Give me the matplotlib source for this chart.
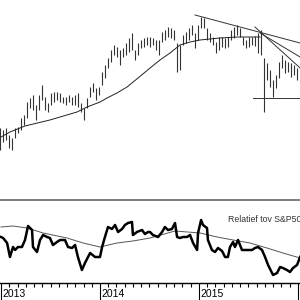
import numpy as np
import matplotlib
matplotlib.use("Agg")
import matplotlib.pyplot as plt
import matplotlib.transforms as mtransforms

plt.rcParams['font.family'] = ['Liberation Sans', 'DejaVu Sans']

# weekly-ish price bars (high / low), 100 bars from Jan 2013 to end 2015
bar_high = [72, 70, 72, 65, 62, 72, 73, 82, 85, 98,
            102, 105, 95, 105, 115, 103, 97, 107, 108, 108,
            107, 103, 103, 105, 103, 105, 107, 97, 92, 102,
            113, 117, 112, 113, 128, 135, 142, 150, 155, 153,
            150, 152, 157, 162, 167, 150, 157, 160, 162, 163,
            163, 162, 160, 160, 168, 170, 173, 172, 170, 157,
            155, 165, 168, 172, 175, 167, 175, 183, 182, 172,
            167, 163, 158, 163, 163, 162, 163, 170, 173, 175,
            172, 163, 160, 163, 163, 164, 167, 170, 142, 137,
            130, 120, 125, 138, 145, 140, 138, 137, 135, 132]
bar_low = [50, 58, 60, 52, 50, 62, 67, 70, 75, 82,
           92, 90, 80, 90, 100, 90, 88, 95, 98, 100,
           98, 97, 95, 98, 95, 95, 93, 88, 80, 92,
           103, 108, 100, 105, 115, 122, 132, 138, 145, 143,
           135, 143, 145, 148, 150, 140, 145, 152, 153, 155,
           153, 155, 150, 145, 158, 160, 163, 162, 160, 128,
           130, 155, 157, 160, 165, 152, 160, 172, 172, 160,
           158, 155, 147, 150, 153, 152, 153, 160, 162, 165,
           163, 155, 152, 153, 155, 154, 147, 145, 88, 120,
           113, 103, 112, 122, 132, 127, 128, 123, 125, 120]

# moving average on price (week, value)
ma_weeks = [0, 4.7, 12.6, 25.7, 39.9, 45.2, 52.0, 55.7, 60.9, 66.2,
            72.0, 78.3, 83.5, 88.8, 94.0, 99.3, 104.5, 115.0, 124.0, 136.1]
ma_vals = [63, 68, 74, 80, 88, 93, 98, 102, 107, 113,
           122, 132, 140, 147, 155, 158, 160, 162, 163, 163]

# trend lines drawn on the price chart: (week0, price0, week1, price1)
trend_lines = [
    (101.9, 185, 157.1, 157),
    (133.4, 173, 157.1, 132),
    (136.1, 167, 157.1, 143),
    (132.4, 102, 157.1, 102),
]

# relative strength vs S&P500
rel_weeks = [0, 1.1, 3.2, 4.7, 6.3, 7.4, 8.9, 11.0, 12.6, 14.2,
             16.3, 16.8, 18.9, 20.5, 22.1, 24.2, 25.7, 27.3, 29.4, 31.0,
             33.6, 35.2, 37.3, 38.9, 40.4, 42.5, 44.1, 46.8, 49.4, 52.0,
             53.1, 54.6, 56.2, 58.3, 59.9, 61.5, 63.6, 65.1, 66.7, 68.8,
             69.3, 71.4, 74.1, 75.6, 77.2, 78.3, 79.8, 82.5, 84.6, 86.1,
             87.7, 89.8, 91.4, 92.5, 94.0, 95.6, 97.7, 99.3, 100.9, 103.0,
             103.5, 105.1, 106.1, 108.2, 108.7, 110.8, 112.4, 114.0, 116.1, 117.7,
             119.2, 120.3, 121.9, 122.9, 124.5, 126.6, 128.2, 129.7, 131.9, 133.4,
             135.0, 137.1, 138.7, 140.3, 142.9, 145.0, 146.6, 148.1, 150.2, 151.8,
             153.4, 155.5, 157.1]
rel_vals = [46, 45, 40, 26, 36, 33, 36, 36, 43, 57,
            53, 36, 31, 43, 48, 46, 45, 38, 41, 43,
            43, 36, 35, 38, 26, 13, 20, 30, 26, 26,
            36, 46, 56, 54, 58, 51, 54, 58, 60, 61,
            48, 51, 53, 49, 51, 51, 48, 46, 51, 56,
            53, 54, 60, 46, 45, 46, 46, 48, 40, 33,
            50, 63, 58, 55, 43, 33, 31, 35, 32, 26,
            26, 36, 41, 36, 43, 33, 33, 33, 33, 35,
            36, 33, 26, 18, 8, 10, 16, 15, 13, 11,
            15, 18, 26]

rel_ma_weeks = [0, 6.3, 13.7, 22.1, 34.7, 43.1, 52.0, 60.9, 69.3, 78.3,
                91.4, 104.5, 113.5, 121.9, 130.8, 139.7, 148.1, 157.1]
rel_ma_vals = [56, 57, 55, 50, 45, 40, 36, 40, 42, 45,
               52, 50, 46, 43, 40, 35, 30, 25]

years = ['2013', '2014', '2015']
year_weeks = [0, 52, 104, 156]

fig = plt.figure(figsize=(3, 3), dpi=100)
ax1 = fig.add_axes([0, 1/3, 1, 2/3])
ax2 = fig.add_axes([0, 17/300, 1, 83/300])

xmin, xmax = -0.53, 157.06
bar_weeks = np.linspace(-0.5, 155.5, len(bar_high))

ax1.vlines(bar_weeks, bar_low, bar_high, color='#333333', lw=0.8)
ax1.plot(ma_weeks, ma_vals, color='#222222', lw=0.7)
for w0, p0, w1, p1 in trend_lines:
    ax1.plot([w0, w1], [p0, p1], color='#333333', lw=0.7)
ax1.set_xlim(xmin, xmax)
ax1.set_ylim(0, 200)
ax1.axis('off')

ax2.plot(rel_ma_weeks, rel_ma_vals, color='#555555', lw=0.7)
ax2.plot(rel_weeks, rel_vals, color='black', lw=1.8)
ax2.set_xlim(xmin, xmax)
ax2.set_ylim(0, 83)
for s in ['left', 'right']:
    ax2.spines[s].set_visible(False)
ax2.spines['top'].set_color('#666666')
ax2.spines['top'].set_linewidth(1.2)
ax2.spines['bottom'].set_color('black')
ax2.spines['bottom'].set_linewidth(1.0)
ax2.set_yticks([])
ax2.set_xticks(year_weeks)
ax2.set_xticklabels([])
months = [y + m * 52 / 12 for y in year_weeks[:-1] for m in range(1, 12)]
ax2.set_xticks(months, minor=True)
ax2.tick_params(axis='x', which='major', length=12.5, width=0.8, direction='out', color='black')
ax2.tick_params(axis='x', which='minor', length=3, width=0.8, direction='out', color='black')

trans = mtransforms.blended_transform_factory(ax2.transData, ax2.transAxes)
for lab, w in zip(years, year_weeks):
    ax2.text(w + 0.6, -0.075, lab, transform=trans, ha='left', va='top',
             fontsize=7.5, color='black')

ax2.text(119.2, 0.77, 'Relatief tov S&P500', transform=trans, ha='left', va='center',
         fontsize=6.3, color='#333333')

fig.savefig('out.png', dpi=100)
